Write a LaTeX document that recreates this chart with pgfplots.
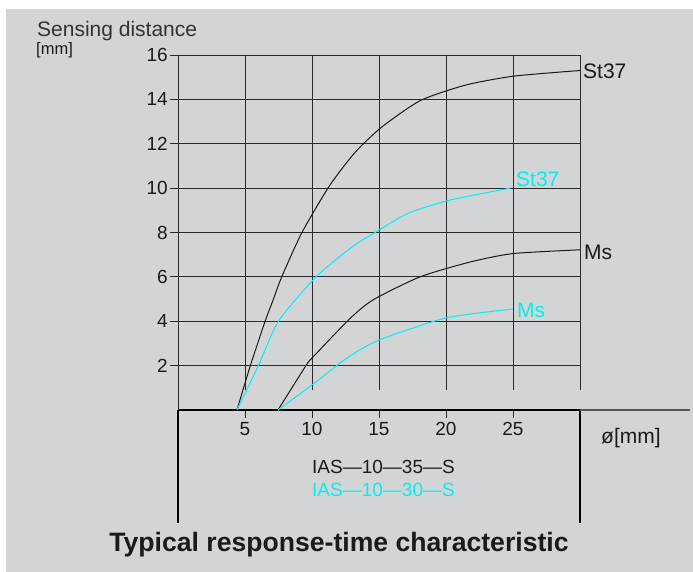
\documentclass[border=0pt]{standalone}
\usepackage{fontspec}
\setmainfont{Liberation Sans}
\usepackage{pgfplots}
\pgfplotsset{compat=1.18}
\definecolor{panel}{HTML}{D3D4D6}
\definecolor{ink}{HTML}{1A1A1A}
\definecolor{aqua}{HTML}{00F0F0}
\definecolor{gridc}{HTML}{2A2A2A}

\begin{document}
\begin{tikzpicture}
% page background in pixel units (1px = 1pt), origin of the axis at px (178,410)
\begin{scope}[x=1pt,y=-1pt,shift={(-178pt,410pt)}]
  \fill[white] (0,0) rectangle (693,572);
  \fill[panel] (6,9) rectangle (693,572);
\end{scope}

\begin{axis}[
  at={(0,0)}, anchor=south west,
  scale only axis, width=402pt, height=355pt,
  xmin=0, xmax=30, ymin=0, ymax=16,
  axis x line*=bottom, axis y line*=left,
  xtick={5,10,15,20,25}, ytick={2,4,...,16},
  tick align=outside, major tick length=8pt,
  tick style={gridc, line width=0.9pt},
  ymajorgrids, grid style={gridc, line width=0.95pt},
  x axis line style={black, line width=2.6pt},
  y axis line style={gridc, line width=0.95pt},
  ticklabel style={font=\fontsize{19}{19}\selectfont, color=ink},
  yticklabel style={inner sep=2pt},
  xticklabel style={inner sep=0pt, yshift=-4pt},
  /pgf/number format/assume math mode=true,
  clip=false,
]
% vertical grid lines stop a little above the axis
\pgfplotsinvokeforeach{5,10,15,20,25,30}{
  \draw[gridc, line width=0.9pt] (axis cs:#1,0.9) -- (axis cs:#1,16);
}
% frame below the axis and the thin extension to the right
\draw[black, line width=2.6pt] (axis cs:0,0) -- (axis cs:0,-5.09);
\draw[black, line width=2.6pt] (axis cs:30,0) -- (axis cs:30,-5.09);
\draw[gridc!80, line width=1.2pt] (axis cs:30,0) -- (axis cs:38.2,0);

% IAS-10-35-S
\addplot[ink, line width=1pt, smooth, tension=0.4] coordinates {
  (4.4,0) (5.4,2) (6.5,4) (7.1,4.96) (7.74,6) (9.25,8) (11.3,10.1)
  (13.2,11.6) (15.2,12.75) (18.1,13.95) (21.5,14.65) (25.1,15.05) (30,15.3)};
\addplot[ink, line width=1pt, smooth, tension=0.4] coordinates {
  (7.46,0) (9.55,2) (10,2.34) (12.8,4.1) (14.55,4.96) (18.06,6.0)
  (21.8,6.67) (25,7.05) (30,7.22)};
% IAS-10-30-S
\addplot[aqua, line width=1pt, smooth, tension=0.4] coordinates {
  (4.4,0) (6.0,2) (7.5,4) (10.3,6) (13.0,7.35) (14.7,8) (17.2,8.87)
  (20.3,9.46) (24.8,10.0)};
\addplot[aqua, line width=1pt, smooth, tension=0.4] coordinates {
  (7.46,0) (10,1.13) (12.6,2.34) (15,3.15) (20,4.15) (25,4.55)};
\end{axis}

\begin{scope}[x=1pt,y=-1pt,shift={(-178pt,410pt)}]
  \node[anchor=base west, inner sep=0pt, color=black!80,
        font=\fontsize{21}{21}\selectfont] at (37,37) {Sensing distance};
  \node[anchor=west, inner sep=0pt, color=ink,
        font=\fontsize{16.5}{16.5}\selectfont] at (36,50) {[mm]};
  \node[anchor=west, inner sep=0pt, color=ink,
        font=\fontsize{21}{21}\selectfont] at (583,71) {St37};
  \node[anchor=west, inner sep=0pt, color=aqua,
        font=\fontsize{21}{21}\selectfont] at (516,179.5) {St37};
  \node[anchor=west, inner sep=0pt, color=ink,
        font=\fontsize{21}{21}\selectfont] at (584,252) {Ms};
  \node[anchor=west, inner sep=0pt, color=aqua,
        font=\fontsize{21}{21}\selectfont] at (517,310) {Ms};
  \node[anchor=west, inner sep=0pt, color=ink,
        font=\fontsize{21}{21}\selectfont] at (601,438) {ø[mm]};
  \node[anchor=west, inner sep=0pt, color=ink,
        font=\fontsize{19}{19}\selectfont] at (312,467) {IAS---10---35---S};
  \node[anchor=west, inner sep=0pt, color=aqua,
        font=\fontsize{19}{19}\selectfont] at (312,490) {IAS---10---30---S};
  \node[anchor=base, inner sep=0pt, color=ink,
        font=\bfseries\fontsize{26.6}{27}\selectfont] at (339,552)
        {Typical response-time characteristic};
\end{scope}

\pgfresetboundingbox
\path[use as bounding box] (-178pt,-162pt) rectangle (515pt,410pt);
\end{tikzpicture}
\end{document}
